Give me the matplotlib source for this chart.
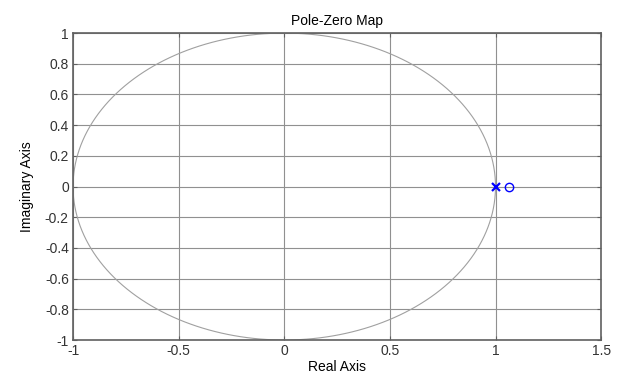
import matplotlib
matplotlib.use("Agg")
import matplotlib.pyplot as plt
import numpy as np

plt.rcParams['font.family'] = ['Liberation Sans', 'DejaVu Sans']

# pole / zero locations
pole_re = [1.0]
pole_im = [0.0]
zero_re = [1.066]
zero_im = [0.0]

xticks = [-1, -0.5, 0, 0.5, 1, 1.5]
yticks = [-1, -0.8, -0.6, -0.4, -0.2, 0, 0.2, 0.4, 0.6, 0.8, 1]

fig = plt.figure(figsize=(6.21, 3.76), dpi=100)
ax = fig.add_axes([0.1176, 0.0957, 0.8504, 0.8163])

# unit circle
t = np.linspace(0, 2 * np.pi, 400)
ax.plot(np.cos(t), np.sin(t), color='#a0a0a0', lw=0.8)

ax.plot(pole_re, pole_im, 'x', color='#0000ff', ms=6, mew=1.6)
ax.plot(zero_re, zero_im, 'o', color='#0000ff', ms=6, mfc='none', mew=1.0)

ax.set_xlim(-1, 1.5)
ax.set_ylim(-1, 1)
ax.set_xticks(xticks)
ax.set_xticklabels(['-1', '-0.5', '0', '0.5', '1', '1.5'])
ax.set_yticks(yticks)
ax.set_yticklabels(['-1', '-0.8', '-0.6', '-0.4', '-0.2', '0', '0.2', '0.4', '0.6', '0.8', '1'])
ax.grid(True, color='#909090', lw=0.8)
ax.set_axisbelow(True)

for s in ax.spines.values():
    s.set_color('#606060')
    s.set_linewidth(1.2)
ax.tick_params(direction='in', top=True, right=True, length=3, color='#606060',
               labelsize=10, labelcolor='#333333', pad=3)

ax.set_title('Pole-Zero Map', fontsize=10, pad=6)
ax.set_xlabel('Real Axis', fontsize=10, labelpad=1)
ax.set_ylabel('Imaginary Axis', fontsize=10, labelpad=8)

fig.savefig('out.png', dpi=100)
